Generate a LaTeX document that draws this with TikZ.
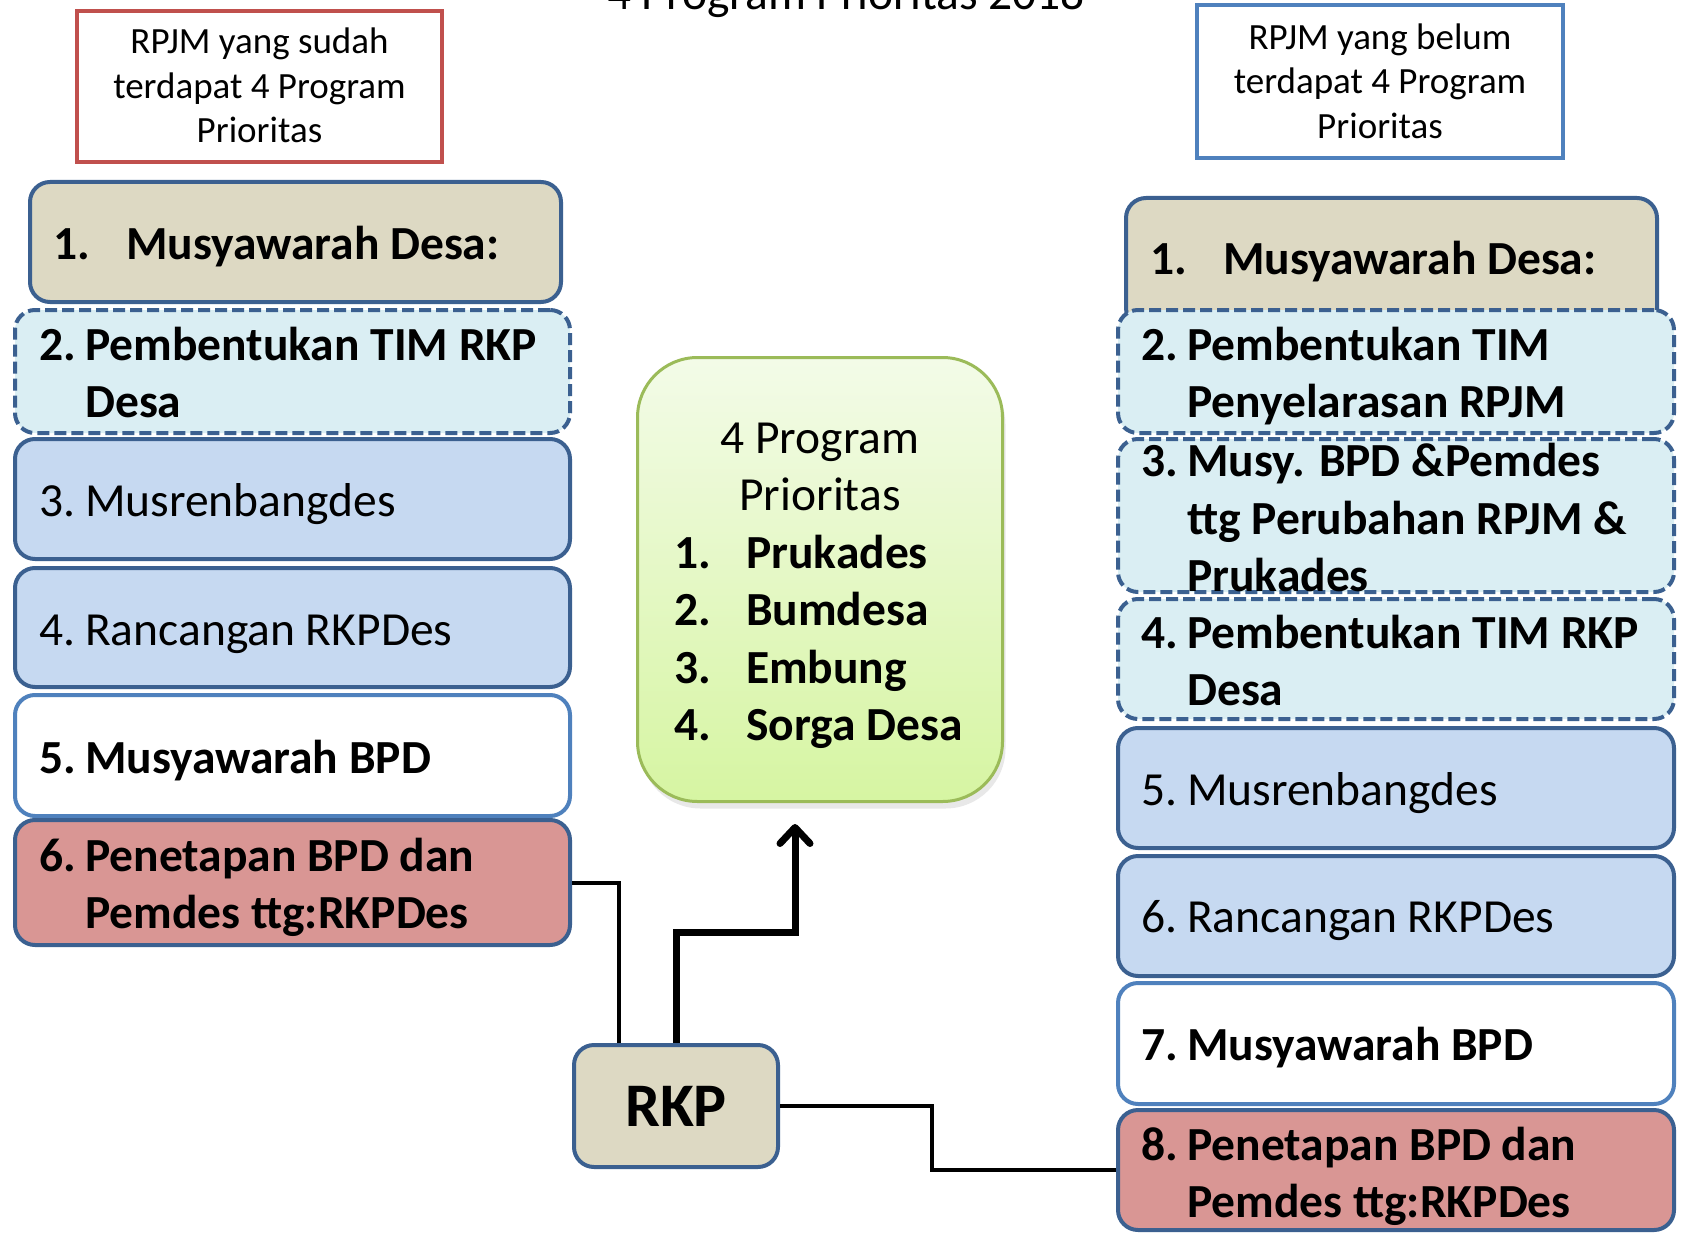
\documentclass[tikz,border=0pt]{standalone}
\usepackage{fontspec}
\setmainfont{Carlito}
\usetikzlibrary{arrows.meta,shadows}
\definecolor{bdark}{HTML}{3B6090}
\definecolor{blite}{HTML}{4F81BD}
\definecolor{tanf}{HTML}{DDD9C3}
\definecolor{aquaf}{HTML}{DAEEF3}
\definecolor{bluef}{HTML}{C6D9F1}
\definecolor{redf}{HTML}{D99694}
\definecolor{hred}{HTML}{C0504D}
\definecolor{gbord}{HTML}{9BBB59}
\definecolor{gtop}{HTML}{F3FBE8}
\definecolor{gbot}{HTML}{D6F5A2}
\newcommand{\numb}[1]{\makebox[46pt][l]{#1}}
\begin{document}
\begin{tikzpicture}[x=1pt,y=-1pt,
  colbox/.style={draw=bdark, line width=4pt, rounded corners=20pt, inner sep=0pt},
  dashbox/.style={colbox, fill=aquaf, dash pattern=on 12pt off 5pt},
  whitebox/.style={colbox, draw=blite, fill=white},
  hdrbox/.style={draw=#1, line width=4pt, fill=white, inner sep=0pt},
  greenbox/.style={draw=gbord, line width=3pt, rounded corners=60pt, top color=gtop, bottom color=gbot, inner sep=0pt,
     drop shadow={shadow xshift=3pt, shadow yshift=-7pt, opacity=0.18}},
  tb/.style={inner sep=0pt, font=\fontsize{47.5}{57.5}\selectfont\bfseries},
  tr/.style={inner sep=0pt, font=\fontsize{47.5}{57.5}\selectfont},
  th/.style={inner sep=0pt, font=\fontsize{37}{44.5}\selectfont},
  link/.style={draw=black, line width=4pt},
  bigarrow/.style={draw=black, line width=7pt, -{Straight Barb[length=16pt, width=30pt, line cap=round, line join=round]}}
]
\useasboundingbox (0,0) rectangle (1683,1233);

% title (cut off at top, as in the reference)
\node[tr, anchor=base] (title) at (846,10) {4 Program Prioritas 2018};

% headers
\node[hdrbox=hred, minimum width=365pt, minimum height=151pt] (HL) at (259.5,86.5) {};
\node[th, anchor=base] (HLt) at (259.5,53.7) {\parbox[t]{360pt}{\centering RPJM yang sudah\\terdapat 4 Program\\Prioritas}};
\node[hdrbox=blite, minimum width=366pt, minimum height=153pt] (HR) at (1380,81.5) {};
\node[th, anchor=base] (HRt) at (1380,49.4) {\parbox[t]{360pt}{\centering RPJM yang belum\\terdapat 4 Program\\Prioritas}};

% left column
\node[colbox, fill=tanf, minimum width=531pt, minimum height=120pt] (L1) at (295.5,242) {};
\node[dashbox, minimum width=555pt, minimum height=123pt] (L2) at (292.5,371.5) {};
\node[colbox, fill=bluef, minimum width=555pt, minimum height=120pt] (L3) at (292.5,499) {};
\node[colbox, fill=bluef, minimum width=555pt, minimum height=119pt] (L4) at (292.5,627.5) {};
\node[whitebox, minimum width=555pt, minimum height=121pt] (L5) at (292.5,755.5) {};
\node[colbox, fill=redf, minimum width=555pt, minimum height=125pt] (L6) at (292.5,882.5) {};

\node[tb, anchor=base west] (L1t) at (53,260) {\makebox[73pt][l]{1.}Musyawarah Desa:};
\node[tb, anchor=base west] (L2t) at (39,360) {\parbox[t]{560pt}{\numb{2.}Pembentukan TIM RKP\\\hspace*{46pt}Desa}};
\node[tr, anchor=base west] (L3t) at (39,516) {\numb{3.}Musrenbangdes};
\node[tr, anchor=base west] (L4t) at (39,645) {\numb{4.}Rancangan RKPDes};
\node[tb, anchor=base west] (L5t) at (39,773) {\numb{5.}Musyawarah BPD};
\node[tb, anchor=base west] (L6t) at (39,871) {\parbox[t]{560pt}{\numb{6.}Penetapan BPD dan\\\hspace*{46pt}Pemdes ttg:RKPDes}};

% right column
\node[colbox, fill=tanf, minimum width=531pt, minimum height=130pt] (R1) at (1391.5,263) {};
\node[dashbox, minimum width=556pt, minimum height=123pt] (R2) at (1396,371.5) {};
\node[dashbox, minimum width=556pt, minimum height=153pt] (R3) at (1396,515.5) {};
\node[dashbox, minimum width=556pt, minimum height=120pt] (R4) at (1396,659) {};
\node[colbox, fill=bluef, minimum width=556pt, minimum height=120pt] (R5) at (1396,788) {};
\node[colbox, fill=bluef, minimum width=556pt, minimum height=120pt] (R6) at (1396,916) {};
\node[whitebox, minimum width=556pt, minimum height=121pt] (R7) at (1396,1043.5) {};
\node[colbox, fill=redf, minimum width=556pt, minimum height=120pt] (R8) at (1396,1170) {};

\node[tb, anchor=base west] (R1t) at (1150,275) {\makebox[73pt][l]{1.}Musyawarah Desa:};
\node[tb, anchor=base west] (R2t) at (1141,360) {\parbox[t]{540pt}{\numb{2.}Pembentukan TIM\\\hspace*{46pt}Penyelarasan RPJM}};
\node[tb, anchor=base west] (R3t) at (1141,476.5) {\parbox[t]{540pt}{\numb{3.}Musy. BPD \&Pemdes\\\hspace*{46pt}ttg Perubahan RPJM \&\\\hspace*{46pt}Prukades}};
\node[tb, anchor=base west] (R4t) at (1141,648) {\parbox[t]{540pt}{\numb{4.}Pembentukan TIM RKP\\\hspace*{46pt}Desa}};
\node[tr, anchor=base west] (R5t) at (1141,805) {\numb{5.}Musrenbangdes};
\node[tr, anchor=base west] (R6t) at (1141,932.5) {\numb{6.}Rancangan RKPDes};
\node[tb, anchor=base west] (R7t) at (1141,1060.5) {\numb{7.}Musyawarah BPD};
\node[tb, anchor=base west] (R8t) at (1141,1160) {\parbox[t]{540pt}{\numb{8.}Penetapan BPD dan\\\hspace*{46pt}Pemdes ttg:RKPDes}};

% green center box
\node[greenbox, minimum width=365pt, minimum height=444pt] (G) at (820,579.5) {};
\node[tr, anchor=base] (Gt) at (820,453) {\parbox[t]{360pt}{\centering 4 Program\\Prioritas}};
\node[tb, anchor=base west] (Gl) at (674,568) {\parbox[t]{330pt}{\makebox[72pt][l]{1.}Prukades\\\makebox[72pt][l]{2.}Bumdesa\\\makebox[72pt][l]{3.}Embung\\\makebox[72pt][l]{4.}Sorga Desa}};

% RKP box
\node[colbox, fill=tanf, minimum width=204pt, minimum height=122pt,
      font=\fontsize{62}{70}\selectfont\bfseries] (RKP) at (676,1106) {RKP};

% connectors
\coordinate (bend) at (795,932);
\coordinate (tip) at (795,824);
\draw[link] (L6.east) -| ([xshift=-57pt]RKP.north);
\draw[bigarrow] (RKP.north) |- (bend) -- (tip);
\draw[link] (RKP.east) -| ([xshift=-184pt]R8.west) -- (R8.west);
\end{tikzpicture}
\end{document}
